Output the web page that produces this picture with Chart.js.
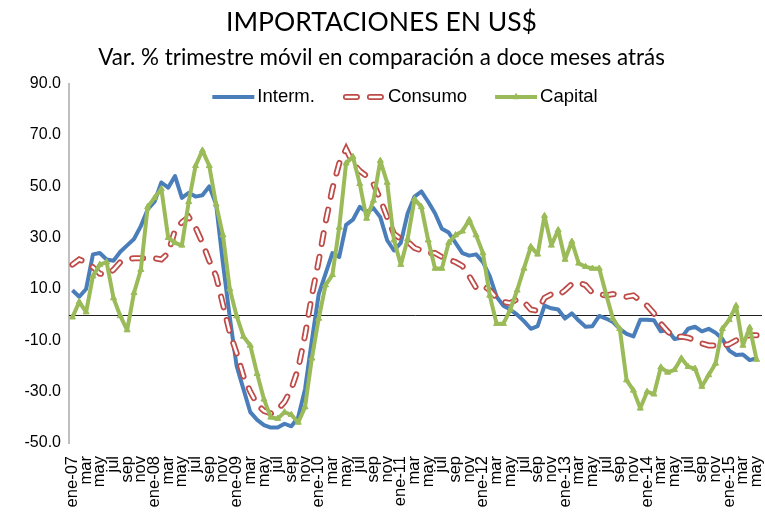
<!DOCTYPE html>
<html>
<head>
<meta charset="utf-8">
<script src="https://cdn.jsdelivr.net/npm/chart.js@4.4.1/dist/chart.umd.min.js"></script>
<style>
html,body{margin:0;padding:0;background:#fff;}
</style>
</head>
<body>
<canvas id="importChart" width="765" height="512"></canvas>
<script>
// categories: ene-07 .. may-15, labels every two months
const months = ["ene","feb","mar","abr","may","jun","jul","ago","sep","oct","nov","dic"];
const years = ["07","08","09","10","11","12","13","14","15"];
const lastMonthOfLastYear = 5;

const categories = [];
years.forEach((yy, yi) => {
  const n = yi === years.length - 1 ? lastMonthOfLastYear : 12;
  for (let m = 0; m < n; m++) categories.push(m === 0 ? "ene-" + yy : months[m]);
});

const seriesNames = ["Interm.", "Consumo", "Capital"];

const interm = [
  9.5, 7, 10, 23.5, 24, 21.5, 21, 24.5, 27, 29.5, 34.5, 41,
  44, 51.5, 49.5, 54, 45.5, 47.5, 46, 46.5, 50, 43, 20, -1,
  -20, -29, -38, -41, -43, -44, -44, -42.5, -43.5, -40, -29, -10,
  8, 16, 24, 22.5, 35, 37, 42, 40, 41.5, 38, 29, 25,
  28, 39.5, 46, 48, 44, 39.5, 33.5, 32, 28, 24, 23, 23.5,
  20.5, 15, 7, 3.5, 2, 0, -2.5, -5.5, -4.5, 3.5, 2.5, 2,
  -1.5, 0.5, -2.3, -4.7, -4.5, -0.5, -1.5, -2.8, -5.5, -7.5, -8.5, -2,
  -2, -2.2, -6.5, -6, -9.5, -9, -5.5, -4.7, -6.5, -5.5, -7, -9.5,
  -14, -15.7, -15.5, -17.7, -17
];

const consumo = [
  19.5, 21.5, 20.5, 18.5, 16, 15.5, 17.5, 20.5, 21.5, 22, 22, 22,
  22, 21.5, 24, 33, 36, 38, 34, 28, 21, 15, 4, -7,
  -15, -24, -30, -35, -37.5, -38.5, -37, -34, -29, -21, -8, 7.5,
  21, 36, 49, 59, 64.5, 59, 56, 54, 51, 45, 38, 31.5,
  29.5, 28.5, 26, 25, 24, 24, 22.5, 21.5, 20.5, 19, 15, 10.5,
  11.5, 9.5, 6.5, 5, 4.5, 6, 5, 2, 1.5, 6.5, 8, 7.5,
  9.5, 12, 12.5, 11.5, 8.5, 8, 7.5, 8, 7.5, 7, 7.5, 5.5,
  3.5, 0.5, -3.5, -6.5, -9, -8.5, -9, -10, -11.2, -12, -12, -12,
  -11.5, -10, -8.5, -8, -8
];

const capital = [
  -1, 5, 1, 15, 19.5, 20.5, 6.5, -0.5, -6, 8.5, 17.5, 42,
  45.5, 49, 30, 28, 27, 44, 58, 64, 58, 43, 31, 10,
  -0.5, -8.5, -12, -23, -33, -40, -40.5, -38, -39, -42, -36, -17,
  -1.5, 11.5, 15.5, 34, 59, 61.5, 51, 37.5, 44.5, 60, 51.5, 29,
  19.5, 29.5, 45, 42, 29, 18, 18, 28, 31, 32.5, 37, 31,
  24, 7.5, -3.5, -3.5, 2, 9.5, 18, 26.5, 23.5, 38.5, 27, 33,
  21.5, 28.5, 20, 18.7, 18, 18, 8, -1.5, -5.5, -25.5, -29.5, -36.5,
  -30, -31, -20.5, -22.5, -21.5, -17, -20.3, -21, -28, -23.5, -19, -5.5,
  -2, 3.5, -12, -5, -17.5
];

const tickFont = "'Liberation Sans', Arial, sans-serif";
const titleFont = "Lato, 'Open Sans', sans-serif";

// black line at zero, drawn under the series
const zeroLine = {
  id: "zeroLine",
  beforeDatasetsDraw(chart) {
    const {ctx, chartArea, scales} = chart;
    const y = Math.round(scales.y.getPixelForValue(0)) + 0.5;
    ctx.save();
    ctx.strokeStyle = "#1f1f1f";
    ctx.lineWidth = 1;
    ctx.beginPath();
    ctx.moveTo(chartArea.left, y);
    ctx.lineTo(chartArea.right + 2, y);
    ctx.stroke();
    ctx.restore();
  }
};

// legend drawn as line samples inside the plot, like the original
const lineLegend = {
  id: "lineLegend",
  afterDraw(chart) {
    const ctx = chart.ctx;
    const sets = chart.data.datasets;
    ctx.save();
    ctx.font = "18.5px " + tickFont;
    const sample = 42, gap = 3, space = 28;
    const widths = seriesNames.map(t => ctx.measureText(t).width);
    const total = widths.reduce((a, w) => a + sample + gap + w, 0) + space * (seriesNames.length - 1);
    let x = 405 - total / 2;
    const y = 97;
    seriesNames.forEach((name, i) => {
      sets.filter(d => d.label === name || d.label === name + "_in").forEach(ds => {
        ctx.beginPath();
        ctx.lineWidth = ds.borderWidth;
        ctx.strokeStyle = ds.borderColor;
        ctx.setLineDash(ds.borderDash || []);
        ctx.lineCap = ds.borderCapStyle || "butt";
        const inset = ds.borderCapStyle === "round" ? 3 : 0;
        ctx.moveTo(x + inset, y);
        ctx.lineTo(x + sample - inset, y);
        ctx.stroke();
        if (ds.pointStyle === "triangle") {
          ctx.setLineDash([]);
          ctx.fillStyle = ds.backgroundColor;
          ctx.lineWidth = 1;
          Chart.helpers.drawPoint(ctx, {pointStyle: "triangle", radius: ds.pointRadius, rotation: 0, borderWidth: 1}, x + sample / 2, y);
        }
      });
      ctx.setLineDash([]);
      ctx.fillStyle = "#000";
      ctx.textAlign = "left";
      ctx.textBaseline = "middle";
      ctx.fillText(name, x + sample + gap, y);
      x += sample + gap + widths[i] + space;
    });
    ctx.restore();
  }
};

new Chart(document.getElementById("importChart"), {
  type: "line",
  data: {
    labels: categories,
    datasets: [
      {label: "Interm.", data: interm, borderColor: "#4a7ebb", borderWidth: 4, pointRadius: 0, borderJoinStyle: "round", order: 4},
      {label: "Consumo", data: consumo, borderColor: "#be4b48", borderWidth: 6, borderDash: [11, 13], borderCapStyle: "round", pointRadius: 0, order: 3},
      {label: "Consumo_in", data: consumo, borderColor: "#ffffff", borderWidth: 2.5, borderDash: [11, 13], borderCapStyle: "round", pointRadius: 0, order: 2},
      {label: "Capital", data: capital, borderColor: "#9bbb59", backgroundColor: "#9bbb59", borderWidth: 4, borderJoinStyle: "round",
       pointStyle: "triangle", pointRadius: 3.5, pointBorderWidth: 1, pointBackgroundColor: "#9bbb59", order: 1}
    ]
  },
  options: {
    responsive: false,
    animation: false,
    devicePixelRatio: 1,
    layout: {padding: {left: 0, right: 2, top: 0, bottom: 0}},
    plugins: {
      legend: {display: false},
      tooltip: {enabled: false},
      title: {display: true, text: "IMPORTACIONES EN US$", color: "#000",
        font: {family: titleFont, size: 26.5, weight: "normal"}, padding: {top: 7, bottom: 3}},
      subtitle: {display: true, text: "Var. % trimestre móvil en comparación a doce meses atrás", color: "#000",
        font: {family: titleFont, size: 22.4, weight: "normal"}, padding: {top: 3, bottom: 12}}
    },
    scales: {
      x: {
        offset: true,
        grid: {display: false, drawTicks: false},
        border: {display: false},
        ticks: {autoSkip: false, minRotation: 90, maxRotation: 90, padding: 13, color: "#000",
          font: {family: tickFont, size: 16.5},
          callback: (v, i) => i % 2 === 0 ? categories[i] : ""},
        afterFit: s => { s.height = 69; s.paddingLeft = 0; s.paddingRight = 0; }
      },
      y: {
        min: -50, max: 90,
        ticks: {stepSize: 20, padding: 8, color: "#000", font: {family: tickFont, size: 16},
          callback: v => v.toFixed(1)},
        grid: {display: false, drawTicks: false},
        border: {display: true, color: "#bfbfbf", width: 2},
        afterFit: s => { s.width = 69; }
      }
    }
  },
  plugins: [zeroLine, lineLegend]
});
</script>
</body>
</html>
